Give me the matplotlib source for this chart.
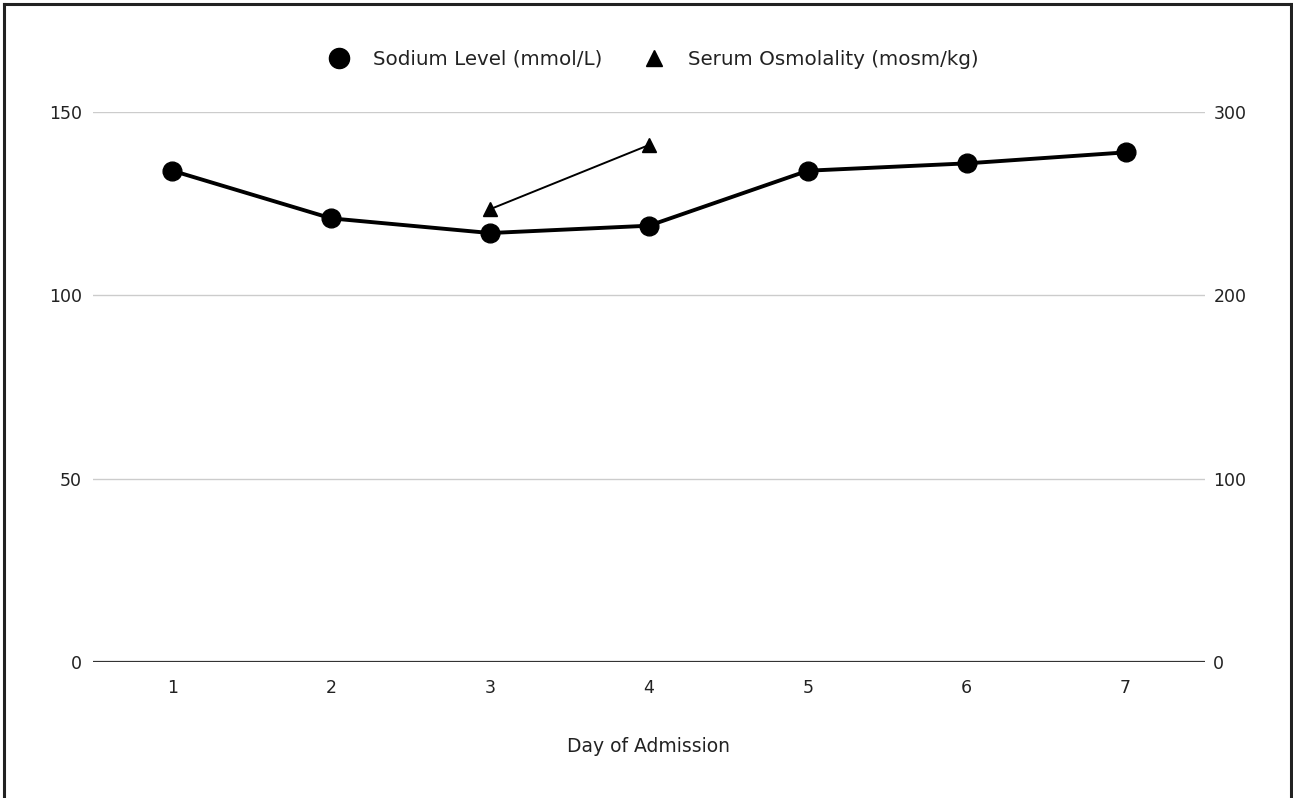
import matplotlib.pyplot as plt
from matplotlib.lines import Line2D

plt.rcParams['font.family'] = ['DejaVu Sans']

# data
days = [1, 2, 3, 4, 5, 6, 7]
sodium = [134, 121, 117, 119, 134, 136, 139]
osmo_days = [3, 4]
osmolality = [247, 282]

fig = plt.figure(figsize=(12.93, 7.98), dpi=100)
ax = fig.add_axes([0.0719, 0.1704, 0.8600, 0.6892])
ax2 = ax.twinx()

ax.plot(days, sodium, color='black', lw=2.8, marker='o', markersize=13.5, clip_on=False, zorder=5)
ax2.plot(osmo_days, osmolality, color='black', lw=1.4, marker='^', markersize=10.5, clip_on=False, zorder=5)

ax.set_xlim(0.5, 7.5)
ax.set_ylim(0, 150)
ax2.set_ylim(0, 300)
ax.set_xticks(days)
ax.set_yticks([0, 50, 100, 150])
ax2.set_yticks([0, 100, 200, 300])

for a in (ax, ax2):
    for s in a.spines.values():
        s.set_visible(False)
    a.tick_params(length=0, labelsize=12.5, colors='#222222')
ax.tick_params(axis='y', pad=8)
ax2.tick_params(axis='y', pad=6)
ax.tick_params(axis='x', pad=12)

ax.grid(axis='y', color='#cccccc', lw=1)
ax.set_axisbelow(True)
ax.axhline(0, color='#333333', lw=1.6, zorder=3)

ax.set_xlabel('Day of Admission', fontsize=13.5, labelpad=29, color='#222222')

handles = [
    Line2D([], [], ls='none', marker='o', color='black', markersize=14.5),
    Line2D([], [], ls='none', marker='^', color='black', markersize=12),
]
fig.legend(handles, ['Sodium Level (mmol/L)', 'Serum Osmolality (mosm/kg)'],
           loc='center', bbox_to_anchor=(0.502, 0.926), ncol=2, frameon=False,
           fontsize=14.3, handletextpad=0.7, columnspacing=1.6, labelcolor='#222222')

# outer frame (left, top, right)
frame_kw = dict(color='#222222', lw=2.2, transform=fig.transFigure)
fig.add_artist(Line2D([0.0031, 0.0031], [0, 0.995], **frame_kw))
fig.add_artist(Line2D([0.0031, 0.9985], [0.995, 0.995], **frame_kw))
fig.add_artist(Line2D([0.9985, 0.9985], [0, 0.995], **frame_kw))

fig.savefig('out.png', dpi=100)
